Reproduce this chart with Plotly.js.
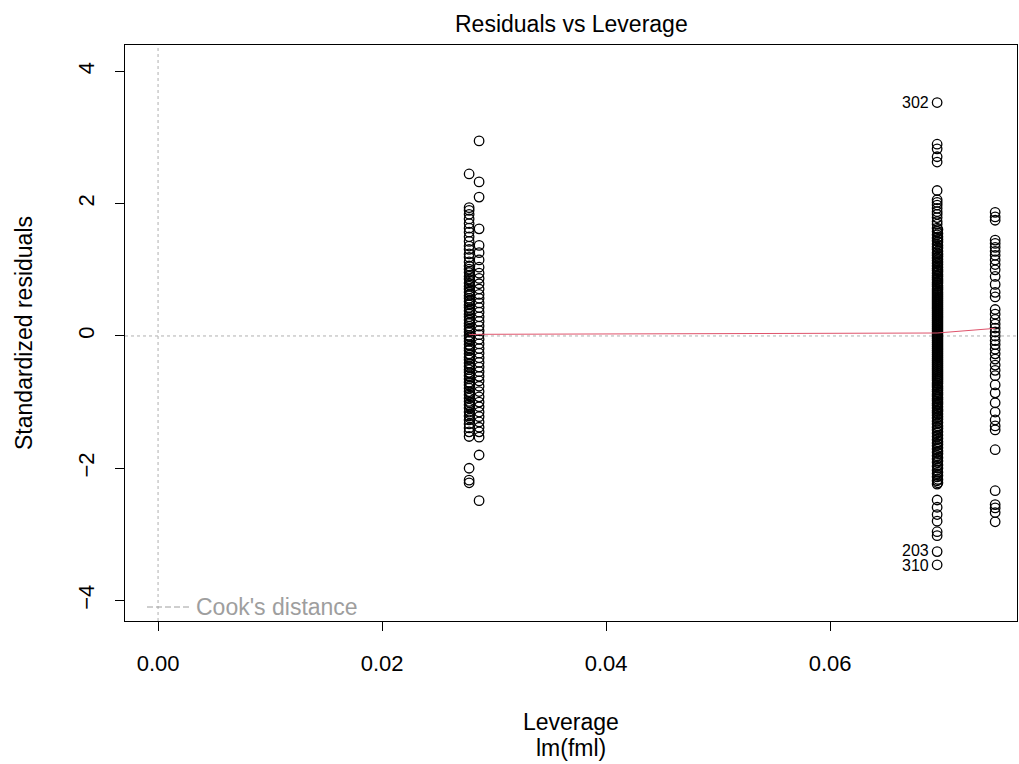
<!DOCTYPE html>
<html>
<head>
<meta charset="utf-8">
<script src="https://cdn.plot.ly/plotly-3.0.1.min.js"></script>
<style>html,body{margin:0;padding:0;background:#fff;}#chart{width:1019px;height:764px;}</style>
</head>
<body>
<div id="chart"></div>
<script>
// Leverage values of the point columns
const levA = 0.02777;
const levA2 = 0.02783;
const levB = 0.02866;
const levMid = 0.06955;
const levMid2 = 0.06962;
const levRight = 0.07473;

// Standardized residuals per column
const resA = [2.45, 1.94, 1.90, 1.84, 1.77, 1.70, 1.63, 1.57, 1.50, 1.43, 1.36, 1.31, 1.24, 1.19, 1.12, 1.06, 1.01, 0.96, 0.90, 0.86, 0.80, 0.75, 0.71, 0.66, 0.61, 0.57, 0.52, 0.47, 0.43, 0.38, 0.33, 0.29, 0.24, 0.19, 0.15, 0.10, 0.06, 0.01, -0.04, -0.08, -0.13, -0.18, -0.22, -0.27, -0.32, -0.36, -0.41, -0.46, -0.51, -0.55, -0.60, -0.65, -0.70, -0.74, -0.79, -0.84, -0.89, -0.94, -0.99, -1.04, -1.09, -1.15, -1.21, -1.27, -1.33, -1.39, -1.45, -1.52, -2.00, -2.18, -2.22];
const resA2 = [1.05, 0.98, 0.92, 0.83, 0.77, 0.68, 0.63, 0.54, 0.49, 0.40, 0.35, 0.26, 0.21, 0.12, 0.08, -0.01, -0.06, -0.15, -0.20, -0.29, -0.34, -0.43, -0.48, -0.57, -0.62, -0.71, -0.76, -0.86, -0.91, -1.01, -1.06, -1.18, -1.24];
const resB = [2.95, 2.33, 2.10, 1.62, 1.37, 1.26, 1.15, 1.04, 0.95, 0.87, 0.79, 0.71, 0.63, 0.57, 0.50, 0.43, 0.36, 0.29, 0.22, 0.15, 0.08, 0.02, -0.05, -0.12, -0.19, -0.26, -0.33, -0.40, -0.47, -0.54, -0.61, -0.68, -0.76, -0.84, -0.92, -1.00, -1.07, -1.15, -1.22, -1.30, -1.38, -1.45, -1.53, -1.80, -2.49];
const resMid = [3.53, 2.90, 2.83, 2.71, 2.63, 2.20, 2.06, 2.02, 1.98, 1.93, 1.88, 1.84, 1.79, 1.73, 1.69, 1.63, 1.58, 1.53, 1.48, 1.44, 1.39, 1.35, 1.31, 1.26, 1.22, 1.18, 1.14, 1.10, 1.06, 1.02, 0.99, 0.95, 0.91, 0.88, 0.85, 0.81, 0.78, 0.75, 0.71, 0.68, 0.65, 0.62, 0.59, 0.56, 0.53, 0.50, 0.47, 0.44, 0.41, 0.38, 0.35, 0.32, 0.29, 0.26, 0.23, 0.20, 0.17, 0.14, 0.11, 0.08, 0.05, 0.02, -0.01, -0.04, -0.07, -0.10, -0.13, -0.16, -0.19, -0.22, -0.25, -0.28, -0.31, -0.34, -0.37, -0.40, -0.43, -0.46, -0.49, -0.52, -0.55, -0.58, -0.61, -0.64, -0.67, -0.71, -0.74, -0.77, -0.81, -0.84, -0.88, -0.91, -0.95, -0.98, -1.02, -1.05, -1.09, -1.13, -1.16, -1.20, -1.24, -1.29, -1.33, -1.38, -1.42, -1.47, -1.52, -1.57, -1.62, -1.66, -1.71, -1.76, -1.81, -1.86, -1.91, -1.97, -2.03, -2.08, -2.13, -2.19, -2.24, -2.48, -2.59, -2.70, -2.80, -2.96, -3.02, -3.26, -3.46];
const resMid2 = [1.61, 1.55, 1.50, 1.46, 1.42, 1.37, 1.33, 1.28, 1.24, 1.20, 1.16, 1.12, 1.08, 1.04, 1.00, 0.97, 0.93, 0.90, 0.86, 0.83, 0.80, 0.76, 0.73, 0.70, 0.66, 0.63, 0.60, 0.57, 0.54, 0.51, 0.48, 0.45, 0.42, 0.39, 0.36, 0.33, 0.30, 0.27, 0.24, 0.21, 0.18, 0.15, 0.12, 0.09, 0.06, 0.03, 0.00, -0.03, -0.06, -0.09, -0.12, -0.15, -0.18, -0.21, -0.24, -0.27, -0.30, -0.33, -0.36, -0.39, -0.42, -0.45, -0.48, -0.51, -0.54, -0.57, -0.60, -0.63, -0.66, -0.69, -0.72, -0.76, -0.79, -0.82, -0.86, -0.89, -0.93, -0.96, -1.00, -1.03, -1.07, -1.11, -1.14, -1.18, -1.22, -1.26, -1.31, -1.36, -1.40, -1.45, -1.50, -1.55, -1.60, -1.64, -1.69, -1.74, -1.78, -1.84, -1.89, -1.95, -2.00, -2.06, -2.11, -2.17, -2.22];
const resRight = [1.87, 1.80, 1.75, 1.45, 1.40, 1.34, 1.28, 1.22, 1.15, 1.08, 1.00, 0.90, 0.78, 0.66, 0.59, 0.40, 0.33, 0.25, 0.18, 0.12, 0.06, 0.00, -0.07, -0.13, -0.20, -0.27, -0.35, -0.44, -0.52, -0.60, -0.74, -0.86, -1.01, -1.15, -1.27, -1.36, -1.42, -1.72, -2.34, -2.55, -2.60, -2.67, -2.81];

// Smoother (red line)
const smoothX = [0.02777, 0.02866, 0.06955, 0.07473];
const smoothY = [0.02, 0.025, 0.045, 0.115];

// Labelled points
const labelX = [0.06955, 0.06955, 0.06955];
const labelY = [3.53, -3.26, -3.46];
const labelText = ['302', '203', '310'];

// Axis ticks
const xTicks = [0, 0.02, 0.04, 0.06];
const xTickText = ['0.00', '0.02', '0.04', '0.06'];
const yTicks = [-4, -2, 0, 2, 4];

function col(lev, arr) { return arr.map(() => lev); }

const marker = {symbol: 'circle-open', size: 9.5, color: '#000', line: {width: 1.3, color: '#000'}};
const pts = {mode: 'markers', type: 'scatter', marker: marker, hoverinfo: 'skip', showlegend: false, cliponaxis: false};

const traces = [
  Object.assign({x: col(levA, resA), y: resA}, pts),
  Object.assign({x: col(levA2, resA2), y: resA2}, pts),
  Object.assign({x: col(levB, resB), y: resB}, pts),
  Object.assign({x: col(levMid, resMid), y: resMid}, pts),
  Object.assign({x: col(levMid2, resMid2), y: resMid2}, pts),
  Object.assign({x: col(levRight, resRight), y: resRight}, pts),
  {x: smoothX, y: smoothY, mode: 'lines', type: 'scatter', line: {color: '#DF536B', width: 1}, showlegend: false, hoverinfo: 'skip'}
];

const fam = 'Liberation Sans, Arial, sans-serif';
const tickFont = {family: fam, size: 22, color: '#000'};
const titleFont = {family: fam, size: 23, color: '#000'};

const annotations = labelText.map((t, i) => ({
  x: labelX[i], y: labelY[i], xref: 'x', yref: 'y', text: t, showarrow: false,
  xanchor: 'right', yanchor: 'middle', xshift: -6, yshift: i === 1 ? 1 : (i === 2 ? -1 : 0),
  font: {family: fam, size: 16, color: '#000'}
}));
annotations.push(
  {xref: 'paper', yref: 'paper', x: 0.5, y: 1, yanchor: 'middle', yshift: 21, text: 'Residuals vs Leverage', showarrow: false, font: titleFont},
  {xref: 'paper', yref: 'paper', x: 0.5, y: 0, yanchor: 'middle', yshift: -101, text: 'Leverage', showarrow: false, font: titleFont},
  {xref: 'paper', yref: 'paper', x: 0.5, y: 0, yanchor: 'middle', yshift: -127, text: 'lm(fml)', showarrow: false, font: titleFont},
  {xref: 'paper', yref: 'paper', x: (194 - 125) / 892, y: (621 - 607) / 576, xanchor: 'left', yanchor: 'middle', text: "Cook's distance", showarrow: false, font: {family: fam, size: 23, color: '#9e9e9e'}}
);

const layout = {
  width: 1019, height: 764,
  margin: {l: 125, r: 2, t: 45, b: 143},
  paper_bgcolor: '#fff', plot_bgcolor: '#fff',
  font: tickFont,
  xaxis: {
    range: [-0.00295, 0.07668], tickvals: xTicks, ticktext: xTickText,
    showgrid: false, zeroline: false, showline: true, mirror: true, linecolor: '#000', linewidth: 1,
    ticks: 'outside', ticklen: 9, tickcolor: '#000', tickwidth: 1, tickfont: tickFont, ticklabelstandoff: 14
  },
  yaxis: {
    range: [-4.31, 4.40], tickvals: yTicks,
    showgrid: false, zeroline: false, showline: true, mirror: true, linecolor: '#000', linewidth: 1,
    ticks: 'outside', ticklen: 9, tickcolor: '#000', tickwidth: 1, tickfont: tickFont, tickangle: -90, ticklabelstandoff: 12,
    title: {text: 'Standardized residuals', font: titleFont, standoff: 35}
  },
  shapes: [
    {type: 'line', xref: 'x', yref: 'paper', x0: 0, x1: 0, y0: 0, y1: 1, line: {color: '#b0b0b0', width: 1, dash: 'dot'}, layer: 'below'},
    {type: 'line', xref: 'paper', yref: 'y', x0: 0, x1: 1, y0: 0, y1: 0, line: {color: '#b0b0b0', width: 1, dash: 'dot'}, layer: 'below'},
    {type: 'line', xref: 'paper', yref: 'paper', x0: (147 - 125) / 892, x1: (191 - 125) / 892, y0: (621 - 607) / 576, y1: (621 - 607) / 576, line: {color: '#9e9e9e', width: 1, dash: '6px,3px'}}
  ],
  annotations: annotations
};

Plotly.newPlot('chart', traces, layout, {displayModeBar: false, staticPlot: true});
</script>
</body>
</html>
